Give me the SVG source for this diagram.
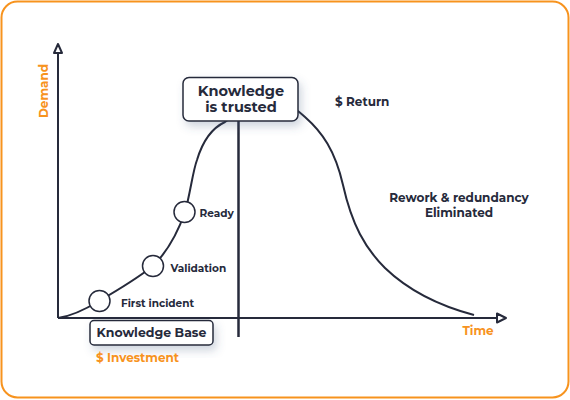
<svg xmlns="http://www.w3.org/2000/svg" width="570" height="400" viewBox="0 0 570 400">
<style>
.t{font-family:"Montserrat","Open Sans","Noto Sans",sans-serif;font-weight:700;fill:#262a3b}
.o{fill:#F7931E}
.ln{fill:none;stroke:#262a3b;stroke-width:2}
.box{fill:#fff;stroke:#262a3b;stroke-width:1.5}
.dot{fill:#fff;stroke:#262a3b;stroke-width:1.5}
</style>
<defs>
<filter id="sh" x="-30%" y="-30%" width="160%" height="180%">
<feDropShadow dx="3" dy="5" stdDeviation="4" flood-color="#4a5a80" flood-opacity="0.25"/>
</filter>
</defs>
<rect x="1.5" y="1.5" width="567" height="396" rx="16" fill="#fff" stroke="#F7931E" stroke-width="2"/>
<g id="axes">
<line class="ln" x1="58" y1="52" x2="58" y2="318" stroke="#3a3e50"/>
<line class="ln" x1="58" y1="318" x2="498" y2="318"/>
<polygon points="58,44 54,53 62,53" fill="#fff" stroke="#262a3b" stroke-width="2" stroke-linejoin="round"/>
<polygon points="506,318 497,313.5 497,322.5" fill="#fff" stroke="#262a3b" stroke-width="2" stroke-linejoin="round"/>
<text class="t o" font-size="12" transform="translate(48,91) rotate(-90)" text-anchor="middle">Demand</text>
<text class="t o" x="478" y="335" font-size="12" text-anchor="middle">Time</text>
</g>
<g id="connectors">
<path class="ln" d="M58,318 C72,316 86,309 99,301 C118,290 135,280 153,266 C168,251 178,232 185,212 C190,195 193,170 197,160 C203,140 212,128 225,122 C240,110 258,100 270,100 C285,100 295,108 305,117 C322,132 335,150 343,185 C352,225 365,248 385,268 C410,292 440,306 474,315"/>
<line x1="238.5" y1="120" x2="238.5" y2="337" stroke="#262a3b" stroke-width="2.5"/>
</g>
<g id="first-incident">
<circle class="dot" cx="99.5" cy="301" r="10.5"/>
<text class="t" x="121" y="307" font-size="10.5">First incident</text>
</g>
<g id="validation">
<circle class="dot" cx="153" cy="266" r="10.5"/>
<text class="t" x="170.5" y="271.5" font-size="10.5">Validation</text>
</g>
<g id="ready">
<circle class="dot" cx="184.5" cy="212" r="10.5"/>
<text class="t" x="199.5" y="217" font-size="10.5">Ready</text>
</g>
<g id="knowledge-trusted">
<rect class="box" x="183" y="77.5" width="115" height="43.5" rx="6" filter="url(#sh)"/>
<text class="t" x="241" y="96" font-size="14.5" text-anchor="middle">Knowledge</text>
<text class="t" x="241" y="111.5" font-size="14.5" text-anchor="middle">is trusted</text>
</g>
<g id="return">
<text class="t" x="335" y="105.5" font-size="12">$ Return</text>
</g>
<g id="rework">
<text class="t" x="459" y="202" font-size="12" text-anchor="middle">Rework &amp; redundancy</text>
<text class="t" x="459" y="216.5" font-size="12" text-anchor="middle">Eliminated</text>
</g>
<g id="knowledge-base">
<rect class="box" x="90" y="320.5" width="123" height="24.5" rx="4" filter="url(#sh)"/>
<text class="t" x="151.5" y="336.5" font-size="12.5" text-anchor="middle">Knowledge Base</text>
<text class="t o" x="96" y="362" font-size="12">$ Investment</text>
</g>
</svg>
